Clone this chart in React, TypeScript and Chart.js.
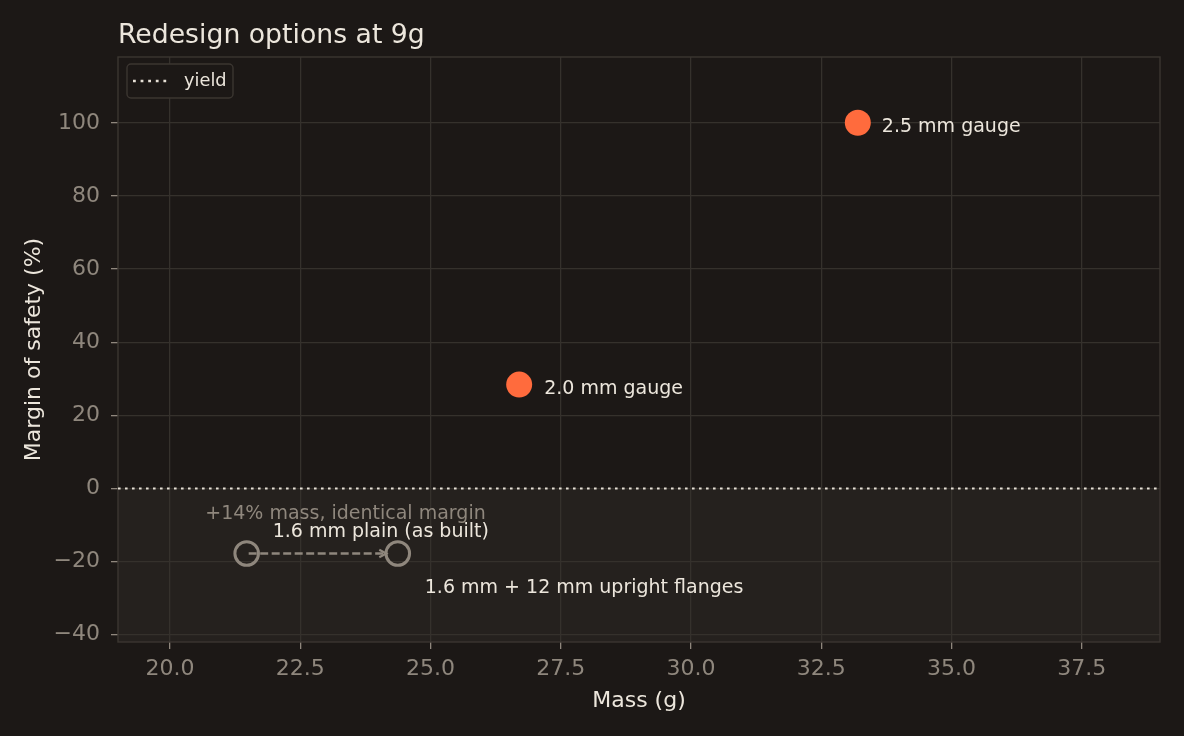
import { useEffect, useRef } from "react"
import { Chart, registerables } from "chart.js"

Chart.register(...registerables)

// Datos del gráfico
const designs = ["1.6 mm plain (as built)", "1.6 mm + 12 mm upright flanges", "2.0 mm gauge", "2.5 mm gauge"]
const massG = [21.47, 24.37, 26.7, 33.2]
const marginPct = [-17.8, -17.8, 28.4, 100]
const isBaseline = [true, true, false, false]
const yieldMargin = 0
const xTickValues = [20, 22.5, 25, 27.5, 30, 32.5, 35, 37.5]
const yTickValues = [-40, -20, 0, 20, 40, 60, 80, 100]
const arrowNote = "+14% mass, identical margin"

const X_MIN = 19
const X_MAX = 39
const Y_MIN = -42
const Y_MAX = 118

const FONT = "'DejaVu Sans', sans-serif"
const BG = "#1c1816"
const SHADE = "#25211e"
const GRID = "#35312c"
const FRAME = "#3b3631"
const TICK_TEXT = "#8f877d"
const TEXT = "#ece6dc"
const GRAY = "#8f877d"
const ORANGE = "#ff6b3d"
const YIELD = "#e6e0d6"

// desplazamiento de cada etiqueta respecto a su punto (px)
const labelOffsets = [
    [26, -17],
    [27, 39],
    [25, 9],
    [24, 9],
]

const decor = {
    id: "decor",
    beforeDraw(chart: any) {
        const { ctx, chartArea: a, scales } = chart
        ctx.save()
        ctx.fillStyle = BG
        ctx.fillRect(0, 0, chart.width, chart.height)
        const y0 = scales.y.getPixelForValue(yieldMargin)
        ctx.fillStyle = SHADE
        ctx.fillRect(a.left, y0, a.right - a.left, a.bottom - y0)
        ctx.restore()
    },
    beforeDatasetsDraw(chart: any) {
        const { ctx, chartArea: a } = chart
        ctx.save()
        ctx.strokeStyle = FRAME
        ctx.lineWidth = 1.4
        ctx.strokeRect(a.left, a.top, a.right - a.left, a.bottom - a.top)
        ctx.restore()
    },
    afterDatasetsDraw(chart: any) {
        const { ctx, scales } = chart
        const { x, y } = scales
        ctx.save()

        // flecha entre los dos diseños de 1.6 mm
        const x1 = x.getPixelForValue(massG[0]) + 2
        const x2 = x.getPixelForValue(massG[1]) - 11.5
        const ya = y.getPixelForValue(marginPct[0])
        ctx.strokeStyle = GRAY
        ctx.lineWidth = 2.7
        ctx.setLineDash([8, 3.5])
        ctx.beginPath()
        ctx.moveTo(x1, ya)
        ctx.lineTo(x2, ya)
        ctx.stroke()
        ctx.setLineDash([])
        ctx.lineWidth = 2.2
        ctx.beginPath()
        ctx.moveTo(x2 - 7, ya - 3.8)
        ctx.lineTo(x2, ya)
        ctx.lineTo(x2 - 7, ya + 3.8)
        ctx.stroke()

        // nota de la flecha
        ctx.font = `19px ${FONT}`
        ctx.fillStyle = GRAY
        ctx.textAlign = "center"
        ctx.textBaseline = "alphabetic"
        ctx.fillText(arrowNote, (x1 + x2) / 2 + 28, ya - 35)

        // etiquetas de los puntos
        ctx.fillStyle = TEXT
        ctx.textAlign = "left"
        designs.forEach((name, i) => {
            const px = x.getPixelForValue(massG[i])
            const py = y.getPixelForValue(marginPct[i])
            ctx.fillText(name, px + labelOffsets[i][0], py + labelOffsets[i][1])
        })

        // leyenda
        const lx = 127
        const ly = 64
        ctx.fillStyle = BG
        ctx.strokeStyle = FRAME
        ctx.lineWidth = 1.4
        ctx.beginPath()
        ctx.roundRect(lx, ly, 106, 34, 4)
        ctx.fill()
        ctx.stroke()
        ctx.strokeStyle = YIELD
        ctx.lineWidth = 2.6
        ctx.setLineDash([2.8, 4.8])
        ctx.beginPath()
        ctx.moveTo(lx + 6, ly + 17)
        ctx.lineTo(lx + 44, ly + 17)
        ctx.stroke()
        ctx.setLineDash([])
        ctx.font = `17.8px ${FONT}`
        ctx.fillStyle = TEXT
        ctx.textBaseline = "middle"
        ctx.fillText("yield", lx + 57, ly + 17)

        // título
        ctx.font = `26.7px ${FONT}`
        ctx.textBaseline = "alphabetic"
        ctx.fillText("Redesign options at 9g", chart.chartArea.left, 43)

        ctx.restore()
    },
}

export default function App() {
    const chartRef = useRef<HTMLCanvasElement>(null)
    const chartInstance = useRef<Chart | null>(null)

    useEffect(() => {
        if (!chartRef.current) return
        if (chartInstance.current) chartInstance.current.destroy()
        const ctx = chartRef.current.getContext("2d")
        if (!ctx) return

        const idx = designs.map((_, i) => i)
        const pts = (want: boolean) =>
            idx.filter((i) => isBaseline[i] === want).map((i) => ({ x: massG[i], y: marginPct[i] }))

        chartInstance.current = new Chart(ctx, {
            type: "scatter",
            data: {
                datasets: [
                    {
                        label: "yield",
                        data: [
                            { x: X_MIN, y: yieldMargin },
                            { x: X_MAX, y: yieldMargin },
                        ],
                        showLine: true,
                        borderColor: YIELD,
                        borderWidth: 2,
                        borderDash: [2.6, 4.4],
                        pointRadius: 0,
                    },
                    {
                        label: "as built",
                        data: pts(true),
                        pointRadius: 11.8,
                        pointBorderWidth: 3,
                        pointBorderColor: GRAY,
                        pointBackgroundColor: "rgba(0,0,0,0)",
                    },
                    {
                        label: "heavier gauge",
                        data: pts(false),
                        pointRadius: 13,
                        pointBorderWidth: 0,
                        pointBackgroundColor: ORANGE,
                    },
                ],
            },
            options: {
                responsive: true,
                maintainAspectRatio: false,
                animation: false,
                events: [],
                layout: { padding: { top: 57, right: 24, left: 0, bottom: 0 } },
                plugins: {
                    legend: { display: false },
                    tooltip: { enabled: false },
                    title: { display: false },
                },
                scales: {
                    x: {
                        type: "linear",
                        min: X_MIN,
                        max: X_MAX,
                        afterBuildTicks: (s: any) => {
                            s.ticks = xTickValues.map((v) => ({ value: v }))
                        },
                        afterFit: (s: any) => {
                            s.height = 94
                        },
                        ticks: {
                            color: TICK_TEXT,
                            font: { family: FONT, size: 22 },
                            padding: 7,
                            callback: (v: any) => Number(v).toFixed(1),
                        },
                        grid: { color: GRID, lineWidth: 1.3, tickLength: 7, tickColor: TICK_TEXT, tickWidth: 1.3 },
                        border: { display: false },
                        title: {
                            display: true,
                            text: "Mass (g)",
                            color: TEXT,
                            font: { family: FONT, size: 22 },
                            padding: { top: 0, bottom: 22 },
                        },
                    },
                    y: {
                        type: "linear",
                        min: Y_MIN,
                        max: Y_MAX,
                        afterBuildTicks: (s: any) => {
                            s.ticks = yTickValues.map((v) => ({ value: v }))
                        },
                        afterFit: (s: any) => {
                            s.width = 118
                        },
                        ticks: {
                            color: TICK_TEXT,
                            font: { family: FONT, size: 22 },
                            padding: 11,
                            callback: (v: any) => (v < 0 ? "\u2212" + Math.abs(v) : String(v)),
                        },
                        grid: { color: GRID, lineWidth: 1.3, tickLength: 7, tickColor: TICK_TEXT, tickWidth: 1.3 },
                        border: { display: false },
                        title: {
                            display: true,
                            text: "Margin of safety (%)",
                            color: TEXT,
                            font: { family: FONT, size: 22 },
                            padding: { top: 21, bottom: 0 },
                        },
                    },
                },
            },
            plugins: [decor],
        })

        return () => {
            if (chartInstance.current) {
                chartInstance.current.destroy()
                chartInstance.current = null
            }
        }
    }, [])

    return (
        <div style={{ position: "absolute", left: 0, top: 0, width: 1184, height: 736, background: BG }}>
            <canvas ref={chartRef} />
        </div>
    )
}
